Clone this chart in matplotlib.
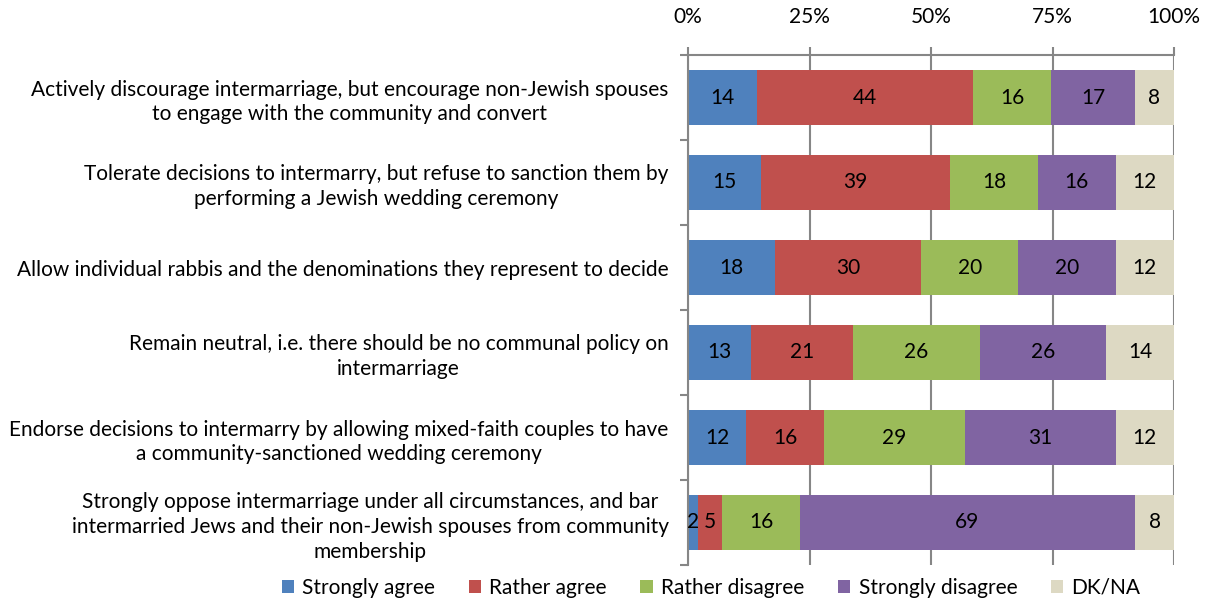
import matplotlib
matplotlib.use("Agg")
import matplotlib.pyplot as plt
import numpy as np

plt.rcParams['font.family'] = ['Lato', 'DejaVu Sans']

statements = [
    "Actively discourage intermarriage, but encourage non-Jewish spouses\nto engage with the community and convert",
    "Tolerate decisions to intermarry, but refuse to sanction them by\nperforming a Jewish wedding ceremony",
    "Allow individual rabbis and the denominations they represent to decide",
    "Remain neutral, i.e. there should be no communal policy on\nintermarriage",
    "Endorse decisions to intermarry by allowing mixed-faith couples to have\na community-sanctioned wedding ceremony",
    "Strongly oppose intermarriage under all circumstances, and bar\nintermarried Jews and their non-Jewish spouses from community\nmembership",
]
responses = ["Strongly agree", "Rather agree", "Rather disagree", "Strongly disagree", "DK/NA"]
strongly_agree = [14, 15, 18, 13, 12, 2]
rather_agree = [44, 39, 30, 21, 16, 5]
rather_disagree = [16, 18, 20, 26, 29, 16]
strongly_disagree = [17, 16, 20, 26, 31, 69]
dk_na = [8, 12, 12, 14, 12, 8]
colors = ["#4F81BD", "#C0504D", "#9BBB59", "#8064A2", "#DDD9C3"]

W, H = 1208, 599
fig = plt.figure(figsize=(W / 100, H / 100), dpi=100)
ax = fig.add_axes([688 / W, 1 - 565 / H, (1174 - 688) / W, (565 - 55) / H])

series = np.array([strongly_agree, rather_agree, rather_disagree, strongly_disagree, dk_na], dtype=float)
shares = series / series.sum(axis=0) * 100
y = np.arange(len(statements))
left = np.zeros(len(statements))
grid_c = "#868686"
fs = 15

ax.set_axisbelow(True)
for k in range(len(responses)):
    ax.barh(y, shares[k], left=left, height=0.64, color=colors[k], label=responses[k], zorder=2)
    for i in range(len(statements)):
        cx = left[i] + shares[k][i] / 2
        ax.text(cx, y[i], f"{int(series[k][i])}", ha="center", va="center",
                fontsize=fs, color="black", zorder=3)
    left += shares[k]

ax.set_xlim(0, 100)
ax.set_ylim(len(statements) - 0.5, -0.5)
ax.xaxis.tick_top()
ax.set_xticks([0, 25, 50, 75, 100])
ax.set_xticklabels(["0%", "25%", "50%", "75%", "100%"], fontsize=fs)
ax.xaxis.grid(True, color=grid_c, linewidth=1.5, zorder=0)
ax.tick_params(axis="x", direction="out", length=6, width=1.5, color=grid_c, pad=14)

ax.set_yticks(y)
ax.set_yticklabels(statements, fontsize=fs, multialignment="center", linespacing=1.3)
ax.set_yticks(np.arange(len(statements) + 1) - 0.5, minor=True)
ax.tick_params(axis="y", which="major", length=0, pad=14)
ax.tick_params(axis="y", which="minor", direction="out", length=6, width=1.5, color=grid_c)

for s in ["right", "bottom"]:
    ax.spines[s].set_visible(False)
for s in ["top", "left"]:
    ax.spines[s].set_color(grid_c)
    ax.spines[s].set_linewidth(1.5)

fig.legend(loc="center", bbox_to_anchor=(711 / W, 1 - 588 / H), ncol=5, frameon=False,
           fontsize=fs, handlelength=0.6, handleheight=0.6, handletextpad=0.4,
           columnspacing=1.6, borderaxespad=0)

fig.savefig("out.png", dpi=100)
